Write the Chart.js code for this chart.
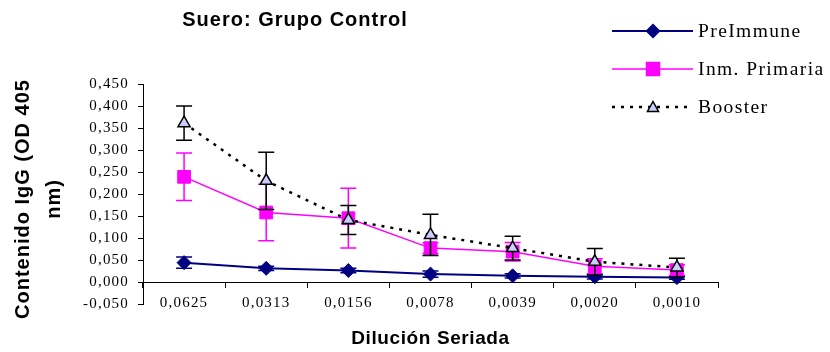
<!DOCTYPE html>
<html>
<head>
<meta charset="utf-8">
<script src="https://cdn.jsdelivr.net/npm/chart.js@4/dist/chart.umd.min.js"></script>
<style>
  html, body { margin: 0; padding: 0; background: #fff; }
  canvas { display: block; }
</style>
</head>
<body>
<canvas id="chart" width="830" height="352"></canvas>
<script>
(function () {
    "use strict";

    // Data
    const categories = ["0,0625", "0,0313", "0,0156", "0,0078", "0,0039", "0,0020", "0,0010"];
    const preImmune = [0.044, 0.031, 0.026, 0.018, 0.014, 0.012, 0.010];
    const preImmuneErr = [0.013, 0.005, 0.005, 0.007, 0.005, 0.005, 0.004];
    const primaria = [0.239, 0.158, 0.145, 0.077, 0.069, 0.036, 0.027];
    const primariaErr = [0.054, 0.064, 0.068, 0.012, 0.021, 0.017, 0.012];
    const booster = [0.361, 0.230, 0.141, 0.107, 0.077, 0.046, 0.033];
    const boosterErr = [0.039, 0.065, 0.033, 0.047, 0.027, 0.030, 0.021];
    const yMin = -0.05;
    const yMax = 0.45;
    const yStep = 0.05;

    const titleText = "Suero: Grupo Control";
    const yTitleLines = ["Contenido IgG (OD 405", "nm)"];
    const xTitleText = "Dilución Seriada";

    const NAVY = "#000080";
    const MAGENTA = "#FF00FF";
    const LAVENDER = "#CCCCFF";

    // error bars, drawn under each series' markers
    const errorBars = {
        id: "errorBars",
        beforeDatasetDraw(chart, args) {
            const ds = chart.data.datasets[args.index];
            if (!ds.errors) return;
            const y = chart.scales.y;
            const ctx = chart.ctx;
            ctx.save();
            ctx.strokeStyle = ds.errorColor;
            ctx.lineWidth = 1.5;
            ctx.setLineDash([]);
            args.meta.data.forEach(function (pt, i) {
                const v = ds.data[i];
                const e = ds.errors[i];
                const top = y.getPixelForValue(v + e);
                const bot = y.getPixelForValue(v - e);
                ctx.beginPath();
                ctx.moveTo(pt.x, top);
                ctx.lineTo(pt.x, bot);
                ctx.moveTo(pt.x - 8, top);
                ctx.lineTo(pt.x + 8, top);
                ctx.moveTo(pt.x - 8, bot);
                ctx.lineTo(pt.x + 8, bot);
                ctx.stroke();
            });
            ctx.restore();
        },
    };

    function marker(ctx, style, x, y, r, fill, stroke) {
        ctx.beginPath();
        if (style === "rectRot") {
            ctx.moveTo(x - r, y);
            ctx.lineTo(x, y - r);
            ctx.lineTo(x + r, y);
            ctx.lineTo(x, y + r);
        } else if (style === "rect") {
            ctx.rect(x - r, y - r, 2 * r, 2 * r);
        } else {
            ctx.moveTo(x - r, y + r * 0.8);
            ctx.lineTo(x, y - r);
            ctx.lineTo(x + r, y + r * 0.8);
        }
        ctx.closePath();
        ctx.fillStyle = fill;
        ctx.fill();
        ctx.lineWidth = 1.5;
        ctx.strokeStyle = stroke;
        ctx.stroke();
    }

    // titles + legend
    const decorations = {
        id: "decorations",
        beforeDraw(chart) {
            chart.ctx.letterSpacing = "1.2px";
        },
        afterDraw(chart) {
            const ctx = chart.ctx;
            const area = chart.chartArea;
            ctx.save();
            ctx.fillStyle = "#000";

            // chart title
            ctx.letterSpacing = "1px";
            ctx.font = "bold 20px 'Liberation Sans', Arial, sans-serif";
            ctx.textAlign = "center";
            ctx.textBaseline = "alphabetic";
            ctx.fillText(titleText, 295, 26);

            // x title
            ctx.letterSpacing = "0.6px";
            ctx.font = "bold 19px 'Liberation Sans', Arial, sans-serif";
            ctx.fillText(xTitleText, (area.left + area.right) / 2, 344);

            // y title
            ctx.letterSpacing = "1px";
            ctx.font = "bold 20px 'Liberation Sans', Arial, sans-serif";
            ctx.textBaseline = "middle";
            yTitleLines.forEach(function (line, i) {
                ctx.save();
                ctx.translate(23 + i * 31, 199);
                ctx.rotate(-Math.PI / 2);
                ctx.fillText(line, 0, 0);
                ctx.restore();
            });

            // legend
            ctx.letterSpacing = "1.4px";
            ctx.font = "19.5px 'Liberation Serif', 'Times New Roman', serif";
            ctx.textAlign = "left";
            const rows = [31, 69, 107];
            chart.data.datasets.forEach(function (ds, i) {
                const ry = rows[i];
                ctx.save();
                ctx.strokeStyle = ds.borderColor;
                ctx.lineWidth = ds.borderWidth;
                ctx.setLineDash(ds.borderDash || []);
                ctx.beginPath();
                ctx.moveTo(612, ry);
                ctx.lineTo(693, ry);
                ctx.stroke();
                ctx.setLineDash([]);
                marker(ctx, ds.pointStyle, 653, ry, ds.legendSize,
                    ds.pointBackgroundColor, ds.pointBorderColor);
                ctx.restore();
                ctx.fillStyle = "#000";
                ctx.fillText(ds.label, 698, ry + 1);
            });
            ctx.restore();
        },
    };

    const tickFont = { family: "'Liberation Serif', 'Times New Roman', serif", size: 15 };

    new Chart(document.getElementById("chart").getContext("2d"), {
        type: "line",
        data: {
            labels: categories,
            datasets: [
                {
                    label: "PreImmune",
                    data: preImmune,
                    errors: preImmuneErr,
                    errorColor: NAVY,
                    order: 3,
                    borderColor: NAVY,
                    borderWidth: 2,
                    pointStyle: "rectRot",
                    pointRadius: 7,
                    pointBackgroundColor: NAVY,
                    pointBorderColor: NAVY,
                    pointBorderWidth: 1,
                    legendSize: 6.5,
                    tension: 0,
                },
                {
                    label: "Inm. Primaria",
                    data: primaria,
                    errors: primariaErr,
                    errorColor: MAGENTA,
                    order: 2,
                    borderColor: MAGENTA,
                    borderWidth: 1.5,
                    pointStyle: "rect",
                    pointRadius: 9,
                    pointBackgroundColor: MAGENTA,
                    pointBorderColor: MAGENTA,
                    pointBorderWidth: 1,
                    legendSize: 6.5,
                    tension: 0,
                },
                {
                    label: "Booster",
                    data: booster,
                    errors: boosterErr,
                    errorColor: "#000",
                    order: 1,
                    borderColor: "#000",
                    borderWidth: 2.5,
                    borderDash: [3, 6],
                    pointStyle: "triangle",
                    pointRadius: 7,
                    pointBackgroundColor: LAVENDER,
                    pointBorderColor: "#000",
                    pointBorderWidth: 1.5,
                    legendSize: 5.5,
                    tension: 0,
                },
            ],
        },
        options: {
            responsive: false,
            animation: false,
            devicePixelRatio: 1,
            layout: {
                padding: { left: 0, right: 112, top: 84, bottom: 48 },
            },
            plugins: {
                legend: { display: false },
                title: { display: false },
                tooltip: { enabled: false },
            },
            scales: {
                x: {
                    position: { y: 0 },
                    offset: true,
                    grid: {
                        offset: true,
                        drawOnChartArea: false,
                        drawTicks: true,
                        tickLength: 5,
                        color: "#000",
                    },
                    border: { color: "#000", width: 1 },
                    ticks: {
                        color: "#000",
                        font: tickFont,
                        padding: 7,
                        maxRotation: 0,
                        autoSkip: false,
                    },
                },
                y: {
                    min: yMin,
                    max: yMax,
                    grid: {
                        drawOnChartArea: false,
                        drawTicks: true,
                        tickLength: 5,
                        color: "#000",
                    },
                    border: { color: "#000", width: 1 },
                    ticks: {
                        stepSize: yStep,
                        color: "#000",
                        font: tickFont,
                        padding: 9,
                        callback: function (v) {
                            return v.toFixed(3).replace(".", ",");
                        },
                    },
                    afterFit(scale) {
                        scale.width = 143;
                    },
                },
            },
        },
        plugins: [errorBars, decorations],
    });
})();
</script>
</body>
</html>
